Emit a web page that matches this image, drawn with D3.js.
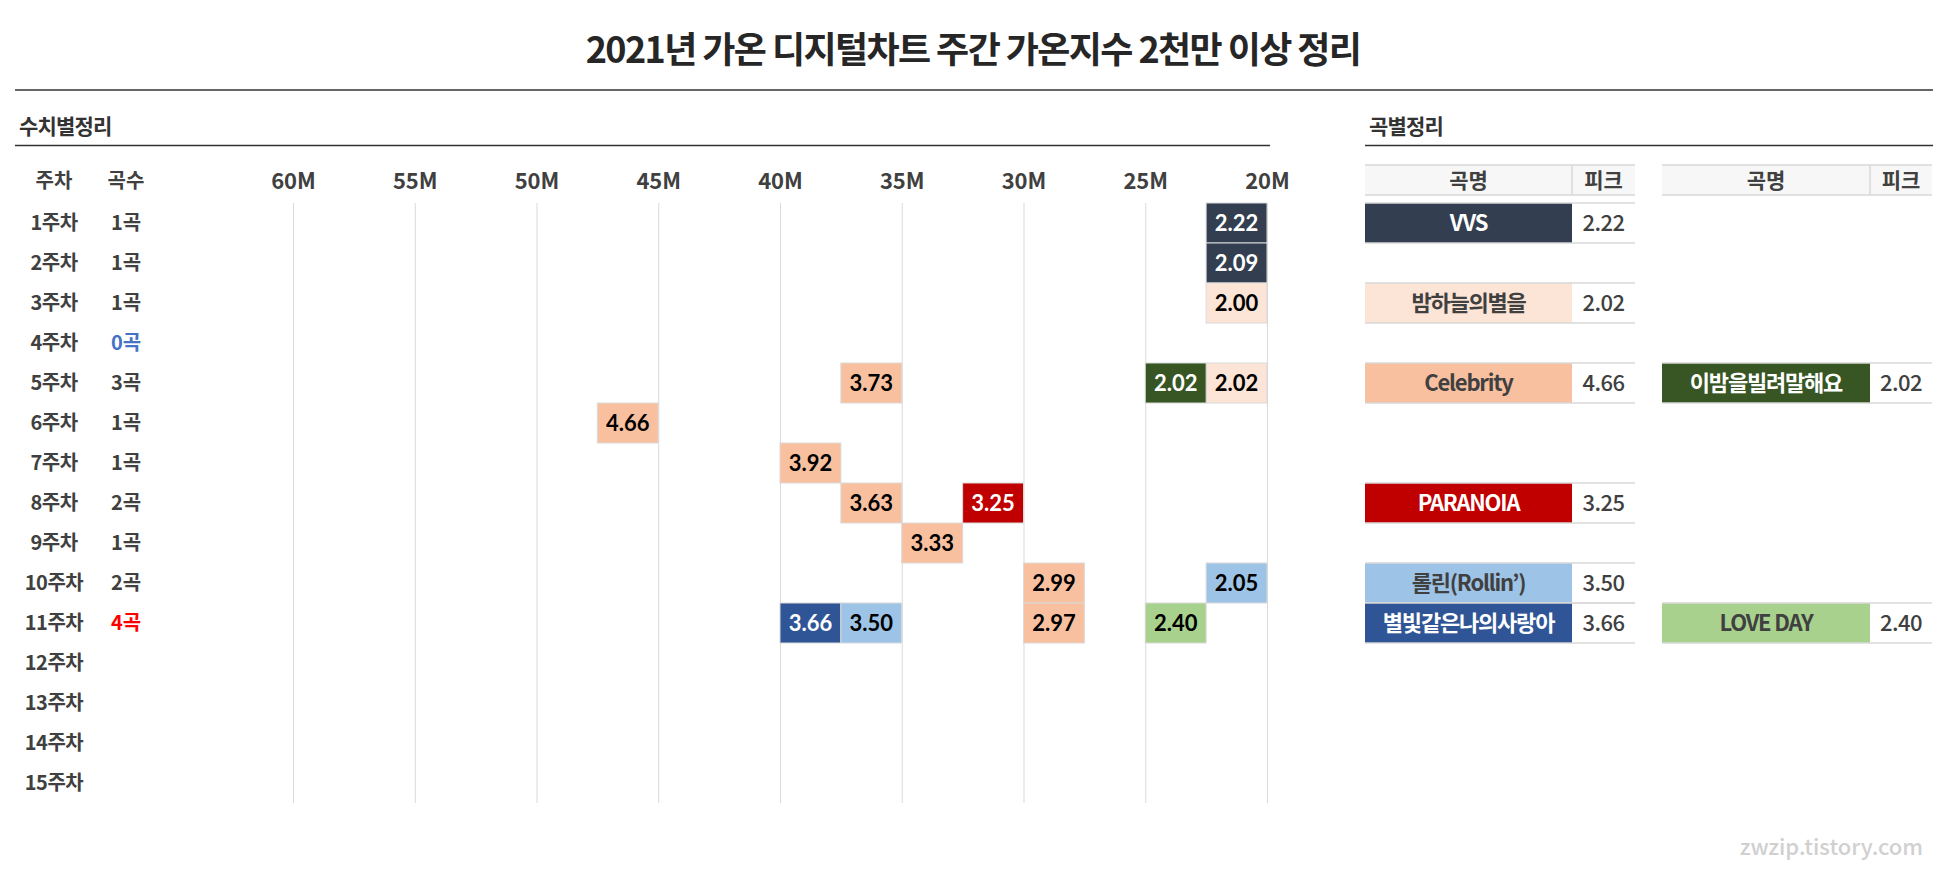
<!DOCTYPE html>
<html>
<head>
<meta charset="utf-8">
<script src="https://cdn.jsdelivr.net/npm/d3@7"></script>
<style>
  body { margin: 0; background: #fff; }
  text { font-family: "Noto Sans CJK KR", "Noto Sans", sans-serif; }
</style>
</head>
<body>
<div id="chart"></div>
<script>
// 주차 / 곡수
const weeks = d3.range(1, 16).map(d => d + "주차");
const songCounts = [1, 1, 1, 0, 3, 1, 1, 2, 1, 2, 4];
const tickValues = [60, 55, 50, 45, 40, 35, 30, 25, 20];

// 곡 목록
const songs = ["VVS", "밤하늘의별을", "Celebrity", "이밤을빌려말해요", "PARANOIA", "롤린(Rollin’)", "별빛같은나의사랑아", "LOVE DAY"];
const songColors = ["#333f50", "#fce4d6", "#f9c0a0", "#375623", "#c00000", "#9dc3e6", "#2f5597", "#a9d18e"];
const songDark = [true, false, false, true, true, false, true, false];

// 주간 가온지수 (천만 단위)
const entryWeek  = [1, 2, 3, 5, 5, 5, 6, 7, 8, 8, 9, 10, 10, 11, 11, 11, 11];
const entrySong  = [0, 0, 1, 2, 1, 3, 2, 2, 2, 4, 2, 2, 5, 6, 5, 2, 7];
const entryValue = [2.22, 2.09, 2.00, 3.73, 2.02, 2.02, 4.66, 3.92, 3.63, 3.249, 3.33, 2.99, 2.05, 3.66, 3.50, 2.97, 2.40];

const width = 1945, height = 870;
const ink = "#404040";

const svg = d3.select("#chart").append("svg")
  .attr("width", width)
  .attr("height", height)
  .style("background", "#fff");

// 제목
svg.append("text")
  .attr("x", 973).attr("y", 50)
  .attr("dy", "0.35em")
  .attr("text-anchor", "middle")
  .style("font-size", "36px").style("font-weight", 700)
  .style("letter-spacing", "-1.6px")
  .attr("fill", "#262626")
  .text("2021년 가온 디지털차트 주간 가온지수 2천만 이상 정리");

svg.append("line")
  .attr("x1", 15).attr("x2", 1933).attr("y1", 90).attr("y2", 90)
  .attr("stroke", "#333").attr("stroke-width", 1.3);

// 섹션 제목
const sections = [
  { label: "수치별정리", x1: 15, x2: 1270 },
  { label: "곡별정리", x1: 1365, x2: 1933 }
];
sections.forEach(s => {
  svg.append("text")
    .attr("x", s.x1 + 4).attr("y", 127).attr("dy", "0.35em")
    .style("font-size", "21px").style("font-weight", 700)
    .style("letter-spacing", "-0.8px")
    .attr("fill", "#333")
    .text(s.label);
  svg.append("line")
    .attr("x1", s.x1).attr("x2", s.x2).attr("y1", 145.5).attr("y2", 145.5)
    .attr("stroke", "#333").attr("stroke-width", 1.3);
});

// scales
const x = d3.scaleLinear().domain([60, 20]).range([293, 1267]);
const y = d3.scaleBand().domain(weeks).range([203, 803]);
const headerY = 181;

// gridlines
const grid = svg.append("g")
  .attr("transform", `translate(0,${y.range()[0]})`)
  .call(d3.axisBottom(x).tickValues(tickValues).tickSize(600).tickFormat(""));
grid.select(".domain").remove();
grid.selectAll("line").attr("stroke", "#d9d9d9");

// tick labels
const ticks = svg.append("g")
  .attr("transform", `translate(0,${headerY})`)
  .call(d3.axisTop(x).tickValues(tickValues).tickSize(0).tickFormat(d => d + "M"));
ticks.select(".domain").remove();
ticks.selectAll("text")
  .attr("y", 0).attr("dy", "0.35em")
  .style("font-family", "'Noto Sans CJK KR', sans-serif")
  .style("font-size", "22px").style("font-weight", 700)
  .attr("fill", ink);

// 주차 / 곡수 columns
const left = svg.append("g");
[["주차", 54], ["곡수", 126]].forEach(([t, cx]) => {
  left.append("text")
    .attr("x", cx).attr("y", headerY).attr("dy", "0.35em")
    .attr("text-anchor", "middle")
    .style("font-size", "20px").style("font-weight", 700)
    .attr("fill", ink).text(t);
});
left.selectAll(".week").data(weeks).enter().append("text")
  .attr("x", 54).attr("y", d => y(d) + y.bandwidth() / 2).attr("dy", "0.35em")
  .attr("text-anchor", "middle")
  .style("font-size", "20px").style("font-weight", 700)
  .style("letter-spacing", "-0.5px")
  .attr("fill", ink).text(d => d);
left.selectAll(".count").data(songCounts).enter().append("text")
  .attr("x", 126).attr("y", (d, i) => y(weeks[i]) + y.bandwidth() / 2).attr("dy", "0.35em")
  .attr("text-anchor", "middle")
  .style("font-size", "20px").style("font-weight", 700)
  .attr("fill", d => d === 0 ? "#4472c4" : d >= 4 ? "#ff0000" : ink)
  .text(d => d + "곡");

// 2.5M 구간에 배치, 같은 구간이면 왼쪽으로 밀기
const entries = entryValue.map((v, i) => ({ week: entryWeek[i], song: entrySong[i], value: v }));
d3.groups(entries, d => d.week).forEach(([, list]) => {
  const used = new Set();
  list.slice().sort((a, b) => a.value - b.value).forEach(e => {
    let bin = Math.floor((e.value * 10 - 20) / 2.5);
    while (used.has(bin)) bin++;
    used.add(bin);
    e.bin = bin;
  });
});

const cells = svg.append("g").selectAll("g").data(entries).enter().append("g");
cells.append("rect")
  .attr("x", d => x(20 + 2.5 * (d.bin + 1)))
  .attr("y", d => y(weeks[d.week - 1]))
  .attr("width", d => x(20 + 2.5 * d.bin) - x(20 + 2.5 * (d.bin + 1)))
  .attr("height", y.bandwidth())
  .attr("fill", d => songColors[d.song])
  .attr("stroke", "#d9d9d9").attr("stroke-width", 1);
cells.append("text")
  .attr("x", d => (x(20 + 2.5 * d.bin) + x(20 + 2.5 * (d.bin + 1))) / 2)
  .attr("y", d => y(weeks[d.week - 1]) + y.bandwidth() / 2)
  .attr("dy", "0.36em")
  .attr("text-anchor", "middle")
  .style("font-family", "Lato, sans-serif")
  .style("font-size", "22px").style("font-weight", 700)
  .attr("fill", d => songDark[d.song] ? "#fff" : "#000")
  .text(d => d3.format(".2f")(d.value));

// 곡별정리 tables
const tables = [
  { x0: 1365, nameW: 207, peakW: 63 },
  { x0: 1662, nameW: 208, peakW: 62 }
];
const songRows = songs.map((name, i) => {
  const mine = entries.filter(e => e.song === i);
  return { name, i, first: d3.min(mine, e => e.week), peak: d3.max(mine, e => e.value) };
});
const colCount = {};
songRows.slice().sort((a, b) => a.first - b.first || b.peak - a.peak).forEach(r => {
  r.col = colCount[r.first] || 0;
  colCount[r.first] = r.col + 1;
});

const tbl = svg.append("g");
tables.forEach(t => {
  const w = t.nameW + t.peakW;
  tbl.append("rect")
    .attr("x", t.x0).attr("y", 165).attr("width", w).attr("height", 30)
    .attr("fill", "#f7f7f7");
  [165, 195].forEach(yy => tbl.append("line")
    .attr("x1", t.x0).attr("x2", t.x0 + w).attr("y1", yy).attr("y2", yy)
    .attr("stroke", "#d9d9d9").attr("stroke-width", 1.5));
  tbl.append("line")
    .attr("x1", t.x0 + t.nameW).attr("x2", t.x0 + t.nameW).attr("y1", 165).attr("y2", 195)
    .attr("stroke", "#d9d9d9").attr("stroke-width", 1.5);
  [["곡명", t.x0 + t.nameW / 2], ["피크", t.x0 + t.nameW + t.peakW / 2]].forEach(([s, cx]) => {
    tbl.append("text")
      .attr("x", cx).attr("y", headerY).attr("dy", "0.35em")
      .attr("text-anchor", "middle")
      .style("font-size", "21px").style("font-weight", 700)
      .attr("fill", ink).text(s);
  });
});

const rows = tbl.selectAll(".song").data(songRows).enter().append("g");
rows.append("rect")
  .attr("x", d => tables[d.col].x0)
  .attr("y", d => y(weeks[d.first - 1]))
  .attr("width", d => tables[d.col].nameW)
  .attr("height", y.bandwidth())
  .attr("fill", d => songColors[d.i]);
rows.each(function (d) {
  const t = tables[d.col], top = y(weeks[d.first - 1]);
  [top, top + y.bandwidth()].forEach(yy => d3.select(this).append("line")
    .attr("x1", t.x0).attr("x2", t.x0 + t.nameW + t.peakW)
    .attr("y1", yy).attr("y2", yy)
    .attr("stroke", "#d9d9d9").attr("stroke-width", 1.5));
});
rows.append("text")
  .attr("x", d => tables[d.col].x0 + tables[d.col].nameW / 2)
  .attr("y", d => y(weeks[d.first - 1]) + y.bandwidth() / 2)
  .attr("dy", "0.35em")
  .attr("text-anchor", "middle")
  .style("font-size", "22px").style("font-weight", 700)
  .style("letter-spacing", "-1.2px")
  .attr("fill", d => songDark[d.i] ? "#fff" : ink)
  .text(d => d.name);
rows.append("text")
  .attr("x", d => tables[d.col].x0 + tables[d.col].nameW + tables[d.col].peakW / 2)
  .attr("y", d => y(weeks[d.first - 1]) + y.bandwidth() / 2)
  .attr("dy", "0.35em")
  .attr("text-anchor", "middle")
  .style("font-size", "22px").style("font-weight", 500)
  .style("letter-spacing", "-0.5px")
  .attr("fill", ink)
  .text(d => d3.format(".2f")(d.peak));

// watermark
svg.append("text")
  .attr("x", 1923).attr("y", 847).attr("dy", "0.35em")
  .attr("text-anchor", "end")
  .style("font-size", "22px").style("font-weight", 500)
  .attr("fill", "#d0d0d0")
  .text("zwzip.tistory.com");
</script>
</body>
</html>
